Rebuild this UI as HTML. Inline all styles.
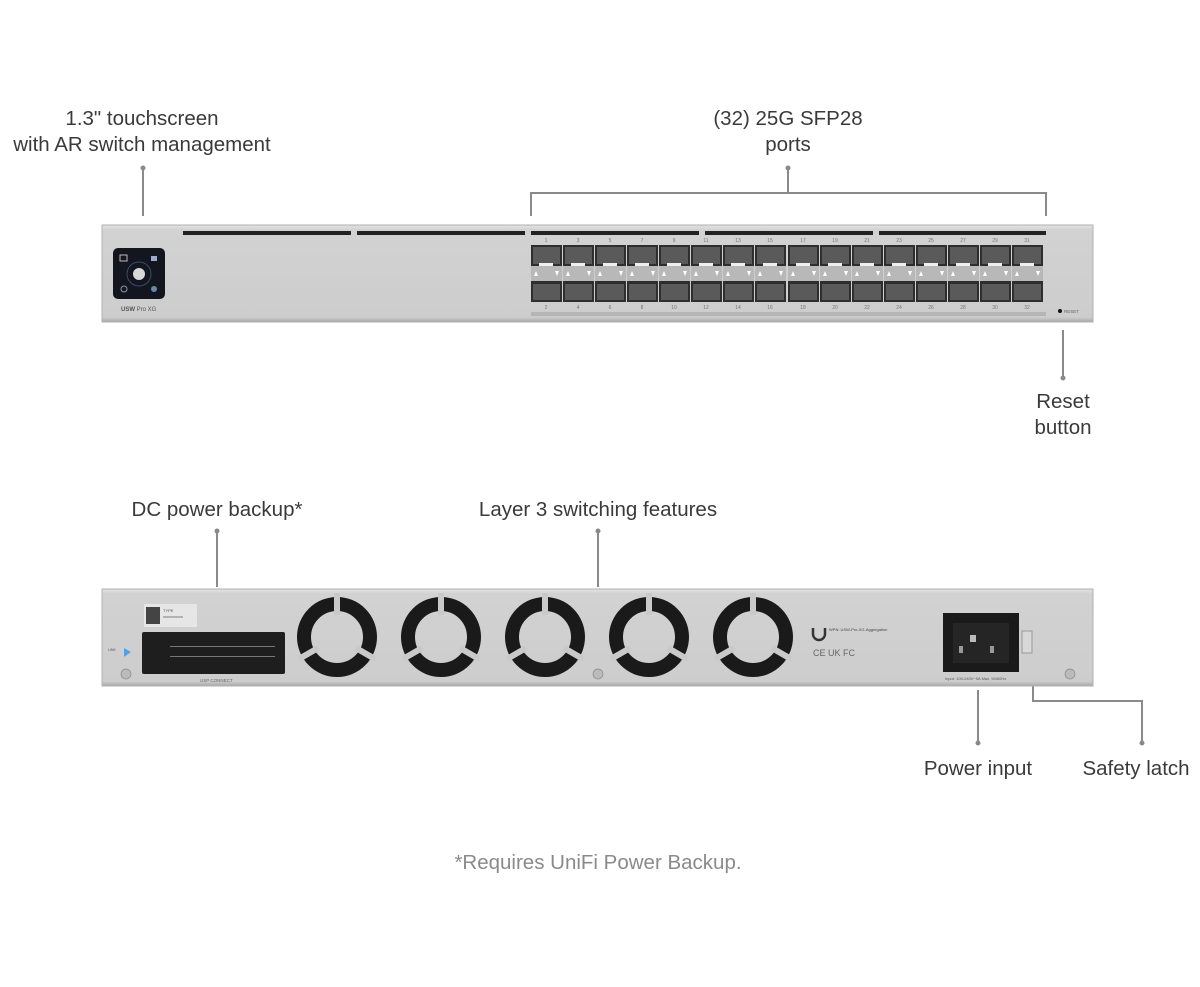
<!DOCTYPE html>
<html><head><meta charset="utf-8"><style>
html,body{margin:0;padding:0;background:#fff;}
body{width:1200px;height:982px;overflow:hidden;}
svg text{font-family:"Liberation Sans",sans-serif;}
</style></head><body>
<svg width="1200" height="982" viewBox="0 0 1200 982" xmlns="http://www.w3.org/2000/svg">
<defs>
 <linearGradient id="met" x1="0" y1="0" x2="0" y2="1">
  <stop offset="0" stop-color="#e4e4e4"/><stop offset="0.05" stop-color="#d2d2d2"/><stop offset="0.95" stop-color="#cdcdcd"/><stop offset="1" stop-color="#a8a8a8"/>
 </linearGradient>
 <g id="col">
  <rect x="0" y="245" width="31" height="21" fill="#2e2e2e"/>
  <rect x="2" y="247" width="27" height="17" fill="#5a5a5a"/>
  <rect x="8" y="263" width="14" height="3" fill="#eee"/>
  <rect x="0" y="266" width="31" height="15" fill="#b8b8b8"/>
  <polygon points="3,276 7,276 5,271" fill="#fff"/>
  <polygon points="24,271 28,271 26,276" fill="#fff"/>
  <rect x="8" y="281" width="14" height="3" fill="#eee"/>
  <rect x="0" y="281" width="31" height="21" fill="#2e2e2e"/>
  <rect x="2" y="284" width="27" height="16" fill="#5a5a5a"/>
 </g>
 <g id="fan">
  <circle r="33" fill="none" stroke="#1a1a1a" stroke-width="14"/>
  <g stroke="#c9c9c9" stroke-width="6">
   <line x1="0" y1="-22" x2="0" y2="-44"/>
   <line x1="19" y1="11" x2="38" y2="22"/>
   <line x1="-19" y1="11" x2="-38" y2="22"/>
  </g>
 </g>
</defs>

<g fill="#3a3a3a" font-size="20.5" text-anchor="middle">
 <text x="142" y="125">1.3" touchscreen</text>
 <text x="142" y="151">with AR switch management</text>
 <text x="788" y="125">(32) 25G SFP28</text>
 <text x="788" y="151">ports</text>
 <text x="1063" y="408">Reset</text>
 <text x="1063" y="434">button</text>
 <text x="217" y="516">DC power backup*</text>
 <text x="598" y="516">Layer 3 switching features</text>
 <text x="978" y="775">Power input</text>
 <text x="1136" y="775">Safety latch</text>
</g>
<text x="598" y="869" fill="#8a8a8a" font-size="20.5" text-anchor="middle">*Requires UniFi Power Backup.</text>

<g stroke="#8a8a8a" stroke-width="2" fill="none">
 <line x1="143" y1="168" x2="143" y2="216"/>
 <line x1="788" y1="168" x2="788" y2="193"/>
 <polyline points="531,216 531,193 1046,193 1046,216"/>
 <line x1="1063" y1="330" x2="1063" y2="378"/>
 <line x1="217" y1="531" x2="217" y2="587"/>
 <line x1="598" y1="531" x2="598" y2="587"/>
 <line x1="978" y1="690" x2="978" y2="743"/>
 <polyline points="1033,682 1033,701 1142,701 1142,743"/>
</g>
<g fill="#8a8a8a">
 <circle cx="143" cy="168" r="2.5"/><circle cx="788" cy="168" r="2.5"/>
 <circle cx="1063" cy="378" r="2.5"/><circle cx="217" cy="531" r="2.5"/>
 <circle cx="598" cy="531" r="2.5"/><circle cx="978" cy="743" r="2.5"/>
 <circle cx="1142" cy="743" r="2.5"/>
</g>

<rect x="102" y="225" width="991" height="97" fill="url(#met)" stroke="#b0b0b0"/>
<g fill="#222">
 <rect x="183" y="231" width="168" height="4"/>
 <rect x="357" y="231" width="168" height="4"/>
 <rect x="531" y="231" width="168" height="4"/>
 <rect x="705" y="231" width="168" height="4"/>
 <rect x="879" y="231" width="167" height="4"/>
</g>
<rect x="113" y="248" width="52" height="51" rx="5" fill="#14161f"/>
<circle cx="139" cy="274" r="12" fill="none" stroke="#3a4a70" stroke-width="1"/>
<circle cx="139" cy="274" r="6" fill="#d8d8d8"/>
<rect x="120" y="255" width="7" height="6" fill="none" stroke="#bbb"/>
<rect x="151" y="256" width="6" height="5" fill="#9ac"/>
<circle cx="124" cy="289" r="3" fill="none" stroke="#89a"/>
<circle cx="154" cy="289" r="3" fill="#68a"/>
<text x="121" y="311" font-size="6" fill="#555" font-weight="bold">USW <tspan font-weight="normal">Pro XG</tspan></text>
<g>
 <use href="#col" x="531"/><use href="#col" x="563"/><use href="#col" x="595"/><use href="#col" x="627"/>
 <use href="#col" x="659"/><use href="#col" x="691"/><use href="#col" x="723"/><use href="#col" x="755"/>
 <use href="#col" x="788"/><use href="#col" x="820"/><use href="#col" x="852"/><use href="#col" x="884"/>
 <use href="#col" x="916"/><use href="#col" x="948"/><use href="#col" x="980"/><use href="#col" x="1012"/>
</g>
<g font-size="5" fill="#777" text-anchor="middle">
 <text x="546" y="242">1</text><text x="578" y="242">3</text><text x="610" y="242">5</text><text x="642" y="242">7</text>
 <text x="674" y="242">9</text><text x="706" y="242">11</text><text x="738" y="242">13</text><text x="770" y="242">15</text>
 <text x="803" y="242">17</text><text x="835" y="242">19</text><text x="867" y="242">21</text><text x="899" y="242">23</text>
 <text x="931" y="242">25</text><text x="963" y="242">27</text><text x="995" y="242">29</text><text x="1027" y="242">31</text>
 <text x="546" y="309">2</text><text x="578" y="309">4</text><text x="610" y="309">6</text><text x="642" y="309">8</text>
 <text x="674" y="309">10</text><text x="706" y="309">12</text><text x="738" y="309">14</text><text x="770" y="309">16</text>
 <text x="803" y="309">18</text><text x="835" y="309">20</text><text x="867" y="309">22</text><text x="899" y="309">24</text>
 <text x="931" y="309">26</text><text x="963" y="309">28</text><text x="995" y="309">30</text><text x="1027" y="309">32</text>
</g>
<rect x="531" y="312" width="515" height="4" fill="#b5b5b5"/>
<circle cx="1060" cy="311" r="2" fill="#111"/>
<text x="1064" y="313" font-size="4.5" fill="#666">RESET</text>

<rect x="102" y="589" width="991" height="97" fill="url(#met)" stroke="#b0b0b0"/>
<rect x="144" y="604" width="53" height="23" fill="#e6e6e6"/>
<rect x="146" y="607" width="14" height="17" fill="#444"/>
<text x="163" y="612" font-size="4" fill="#555">TYPE</text>
<text x="163" y="618" font-size="4" fill="#555">xxxxxxxxxx</text>
<rect x="142" y="632" width="143" height="42" fill="#1e1e1e" rx="2"/>
<g fill="#777">
 <rect x="170" y="646" width="105" height="1"/><rect x="170" y="656" width="105" height="1"/>
</g>
<text x="200" y="682" font-size="4.5" fill="#666">USP CONNECT</text>
<polygon points="124,648 131,652 124,657" fill="#4aa3f0"/>
<text x="108" y="651" font-size="3.5" fill="#557">LINK</text>
<use href="#fan" x="337" y="637"/>
<use href="#fan" x="441" y="637"/>
<use href="#fan" x="545" y="637"/>
<use href="#fan" x="649" y="637"/>
<use href="#fan" x="753" y="637"/>
<path d="M813 628 v6 a6 6 0 0 0 12 0 v-6" fill="none" stroke="#333" stroke-width="2.5"/>
<text x="829" y="631" font-size="4" fill="#444">WPN: USW-Pro-XG-Aggregation</text>
<text x="813" y="656" font-size="9" fill="#666">CE UK FC</text>
<rect x="943" y="613" width="76" height="59" fill="#1a1a1a"/>
<rect x="953" y="623" width="56" height="40" fill="#252525"/>
<rect x="970" y="635" width="6" height="7" fill="#bbb"/>
<rect x="959" y="646" width="4" height="7" fill="#999"/><rect x="990" y="646" width="4" height="7" fill="#999"/>
<rect x="1022" y="631" width="10" height="22" fill="#d8d8d8" stroke="#999"/>
<text x="945" y="680" font-size="4" fill="#555">Input: 100-240V~5A Max, 50/60Hz</text>
<g fill="#bbb" stroke="#888" stroke-width="0.7">
 <circle cx="126" cy="674" r="5"/><circle cx="598" cy="674" r="5"/><circle cx="1070" cy="674" r="5"/>
</g>
</svg>
</body></html>
